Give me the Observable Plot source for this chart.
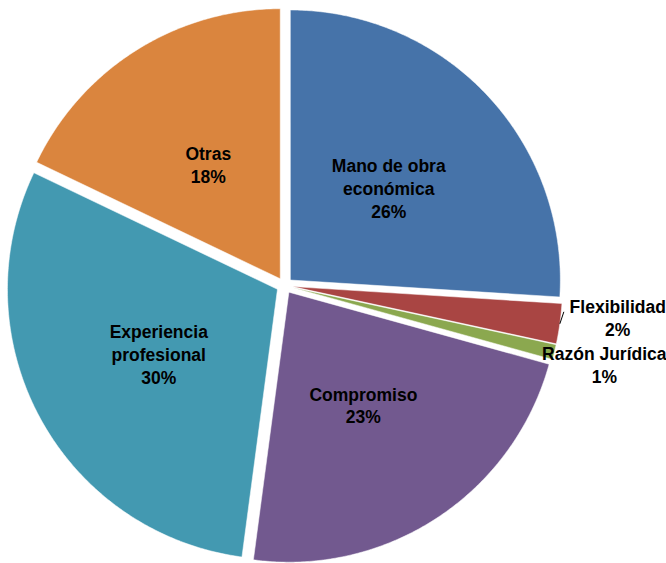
<!DOCTYPE html>
<html>
<head>
<meta charset="utf-8">
<script src="https://cdn.jsdelivr.net/npm/d3@7"></script>
<script src="https://cdn.jsdelivr.net/npm/@observablehq/plot@0.6"></script>
<style>
  html, body { margin: 0; padding: 0; background: #ffffff; }
  #chart svg { display: block; }
</style>
</head>
<body>
<div id="chart"></div>
<script>
// ---- Data ----
const categories = ["Mano de obra\neconómica", "Flexibilidad", "Razón Jurídica", "Compromiso", "Experiencia\nprofesional", "Otras"];
const values = [26.0, 2.4, 0.9, 22.8, 30.0, 17.9];

// ---- Geometry (unit radius) ----
const W = 666, H = 563;
const R = 270;            // pixel radius
const cx = 284, cy = 285; // pixel centre
const explode = 8 / R;

const table = categories.map((c, i) => ({name: c, value: values[i]}));
const arcs = d3.pie().sort(null).value(d => d.value).startAngle(0)(table);

const polyPts = [];
const labels = [];
const leaders = [];
arcs.forEach(a => {
  const mid = (a.startAngle + a.endAngle) / 2;
  const ox = Math.sin(mid) * explode, oy = Math.cos(mid) * explode;
  const name = a.data.name;
  polyPts.push({name, x: ox, y: oy});
  const n = Math.max(2, Math.ceil((a.endAngle - a.startAngle) / (Math.PI / 360)));
  for (let k = 0; k <= n; k++) {
    const t = a.startAngle + (a.endAngle - a.startAngle) * k / n;
    polyPts.push({name, x: ox + Math.sin(t), y: oy + Math.cos(t)});
  }
  polyPts.push({name, x: ox, y: oy});
  const pct = Math.round(a.data.value) + "%";
  const outside = a.data.value < 5;
  const lr = outside ? 1.22 : 0.5;
  const base = outside ? 0 : 1;
  labels.push({
    text: name + "\n" + pct,
    x: ox * base + Math.sin(mid) * lr,
    y: oy * base + Math.cos(mid) * lr,
    outside,
    first: outside && leaders.length === 0
  });
  if (outside && leaders.length === 0) {
    const x1 = ox + Math.sin(mid) * 1.0, y1 = oy + Math.cos(mid) * 1.0;
    leaders.push({x1, y1, x2: x1 + 4 / R, y2: y1 + 12 / R});
  }
});

const textStyle = {
  fontFamily: "Liberation Sans, Arial, sans-serif",
  fontSize: 17.5, fontWeight: "bold", fill: "#000000",
  lineHeight: 1.3
};

const chart = Plot.plot({
  width: W,
  height: H,
  margin: 0,
  x: {domain: [-cx / R, (W - cx) / R], axis: null},
  y: {domain: [-(H - cy) / R, cy / R], axis: null},
  color: {
    domain: categories,
    range: ["#4673A9", "#A94543", "#8BA84F", "#72598F", "#4399B1", "#DA853E"]
  },
  style: {background: "#ffffff"},
  marks: [
    Plot.line(polyPts, {
      x: "x", y: "y", z: "name",
      fill: "name",
      stroke: "#ffffff", strokeOpacity: 0.5, strokeWidth: 1
    }),
    Plot.link(leaders, {x1: "x1", y1: "y1", x2: "x2", y2: "y2", stroke: "#000000", strokeWidth: 1}),
    Plot.text(labels.filter(d => !d.first), {x: "x", y: "y", text: "text", ...textStyle}),
    Plot.text(labels.filter(d => d.first), {x: "x", y: "y", text: "text", dy: -14, dx: 7, ...textStyle})
  ]
});
document.getElementById("chart").appendChild(chart);
</script>
</body>
</html>
